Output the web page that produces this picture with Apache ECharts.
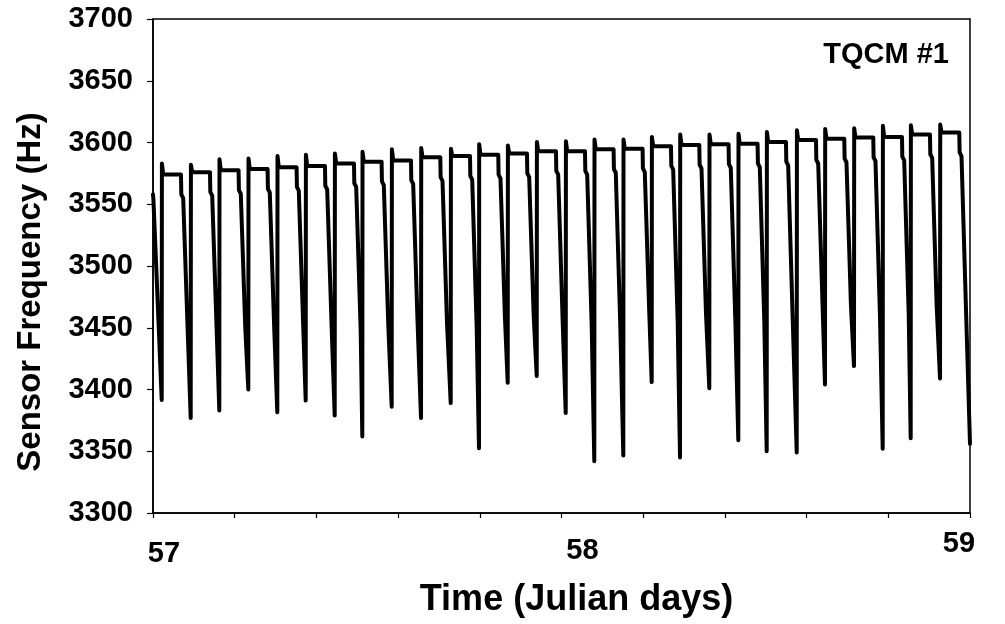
<!DOCTYPE html>
<html>
<head>
<meta charset="utf-8">
<script src="https://cdn.jsdelivr.net/npm/echarts@6/dist/echarts.min.js"></script>
<style>
html,body{margin:0;padding:0;background:#fff;}
#chart{width:1005px;height:624px;}
</style>
</head>
<body>
<div id="chart"></div>
<script>
// ---- data ----
// time (Julian day) of each sharp rise (one per orbit cycle)
const riseTimes = [57.0213, 57.0923, 57.1623, 57.2333, 57.3043, 57.3738, 57.4448, 57.5124,
  57.5843, 57.6561, 57.7288, 57.7980, 57.8683, 57.9393, 58.0103, 58.0803, 58.1513, 58.2208,
  58.2901, 58.3618, 58.4328, 58.5023, 58.5758, 58.6450, 58.7160, 58.7863, 58.8548, 58.9266];
// spike value right after each rise (Hz)
const spikeVals = [3583, 3582, 3586.5, 3587, 3589, 3590, 3591, 3592.5, 3594.5, 3595.5, 3595, 3598.5,
  3597.5, 3600.5, 3601, 3602.5, 3602.5, 3604.5, 3606.5, 3606.5, 3607, 3608.5, 3610, 3611, 3611.5,
  3613.5, 3614, 3614.5];
// flat plateau level of each cycle (Hz)
const plateauVals = [3574, 3576, 3577.5, 3578.5, 3580, 3581, 3583, 3584.5, 3585.5, 3588, 3589, 3590,
  3591, 3593, 3593, 3594.5, 3595, 3597, 3598, 3598.5, 3599, 3600.5, 3602, 3603, 3604, 3604.5,
  3606.5, 3608];
// minimum reached just before each rise, plus the last one at the right edge (Hz)
const minVals = [3391.5, 3377, 3383, 3400, 3381.5, 3391, 3379, 3362, 3386, 3377, 3389, 3352.5,
  3405.5, 3411, 3381, 3342, 3346.5, 3406, 3345, 3401, 3359, 3350, 3349, 3404, 3419, 3352, 3360.5,
  3409, 3356];
// value where the descending slope steepens, before each minimum (Hz)
const kneeVals = [3445, 3448, 3448, 3450, 3448, 3450, 3450, 3448, 3452, 3452, 3454, 3450, 3458,
  3460, 3455, 3452, 3452, 3462, 3455, 3462, 3458, 3456, 3458, 3465, 3468, 3460, 3462, 3468, 3465];
// start of the record (partway through a descent)
const startPoints = [[57.0, 3558], [57.001, 3554], [57.0147, 3445]];
const endTime = 59.0;
// timing of the features inside one cycle, days after the rise
const phaseSpike = 0.0005, phasePlateauStart = 0.0037, phasePlateauEnd = 0.0472,
      phaseDrop = 0.0480, phaseShoulder = 0.0526, phaseKnee = 0.0636;
// drop below the plateau at its end, and at the shoulder (Hz)
const shoulderDrops = [16, 19];

const yTicks = [3300, 3350, 3400, 3450, 3500, 3550, 3600, 3650, 3700];
const xTickLabels = ['57', '58', '59'];

// ---- build the polyline from the values ----
const pts = [startPoints[0], startPoints[1], startPoints[2], [riseTimes[0], minVals[0]]];
for (let i = 0; i < riseTimes.length; i++) {
  const r = riseTimes[i];
  const L = plateauVals[i];
  const nextT = (i + 1 < riseTimes.length) ? riseTimes[i + 1] : endTime;
  pts.push([r + phaseSpike, spikeVals[i]]);
  pts.push([r + phasePlateauStart, L]);
  pts.push([r + phasePlateauEnd, L]);
  pts.push([r + phaseDrop, L - shoulderDrops[0]]);
  pts.push([r + phaseShoulder, L - shoulderDrops[1]]);
  pts.push([r + phaseKnee, kneeVals[i + 1]]);
  pts.push([nextT, minVals[i + 1]]);
}

const FONT = "'Liberation Sans', Arial, Helvetica, sans-serif";
const chart = echarts.init(document.getElementById('chart'), null, {renderer: 'canvas'});
chart.setOption({
  animation: false,
  backgroundColor: '#ffffff',
  title: {
    text: 'TQCM #1', right: 56, top: 40, padding: 0,
    textStyle: {fontFamily: FONT, fontWeight: 'bold', fontSize: 29, color: '#000'}
  },
  grid: {left: 153, right: 35, top: 19, bottom: 111, show: true, borderColor: '#000', borderWidth: 1.5, backgroundColor: 'transparent'},
  xAxis: {
    type: 'value', min: 57, max: 59, interval: 0.2,
    name: 'Time (Julian days)', nameLocation: 'middle', nameGap: 69,
    nameTextStyle: {fontFamily: FONT, fontWeight: 'bold', fontSize: 36, color: '#000', padding: [0, 0, 0, 30]},
    axisLine: {show: true, lineStyle: {color: '#000', width: 1.5}},
    axisTick: {show: true, inside: false, length: 5, lineStyle: {color: '#000', width: 1.2}},
    splitLine: {show: false},
    axisLabel: {
      show: true, margin: 16, showMinLabel: true, showMaxLabel: true,
      fontFamily: FONT, fontWeight: 'bold', fontSize: 29, color: '#000',
      formatter: function (v) {
        const k = xTickLabels.indexOf(String(Math.round(v)));
        if (Math.abs(v - Math.round(v)) > 1e-6 || k < 0) return '';
        return '{l' + k + '|' + xTickLabels[k] + '}';
      },
      rich: {
        l0: {fontFamily: FONT, fontWeight: 'bold', fontSize: 29, color: '#000', padding: [10, 0, 0, 22]},
        l1: {fontFamily: FONT, fontWeight: 'bold', fontSize: 29, color: '#000', padding: [7, 0, 0, 42]},
        l2: {fontFamily: FONT, fontWeight: 'bold', fontSize: 29, color: '#000', padding: [0, 22, 0, 0]}
      }
    }
  },
  yAxis: {
    type: 'value', min: yTicks[0], max: yTicks[yTicks.length - 1], interval: 50,
    name: 'Sensor Frequency (Hz)', nameLocation: 'middle', nameGap: 106,
    nameTextStyle: {fontFamily: FONT, fontWeight: 'bold', fontSize: 33, color: '#000', padding: [0, 52, 0, 0]},
    axisLine: {show: true, lineStyle: {color: '#000', width: 1.5}},
    axisTick: {show: true, inside: false, length: 6, lineStyle: {color: '#000', width: 1.2}},
    splitLine: {show: false},
    axisLabel: {
      margin: 20, fontFamily: FONT, fontWeight: 'bold', fontSize: 29, color: '#000',
      formatter: function (v) { return String(v); }
    }
  },
  series: [{
    type: 'line', data: pts, showSymbol: false, symbol: 'none', sampling: false,
    lineStyle: {color: '#000', width: 4, join: 'round', cap: 'round'},
    clip: true
  }]
});
</script>
</body>
</html>
